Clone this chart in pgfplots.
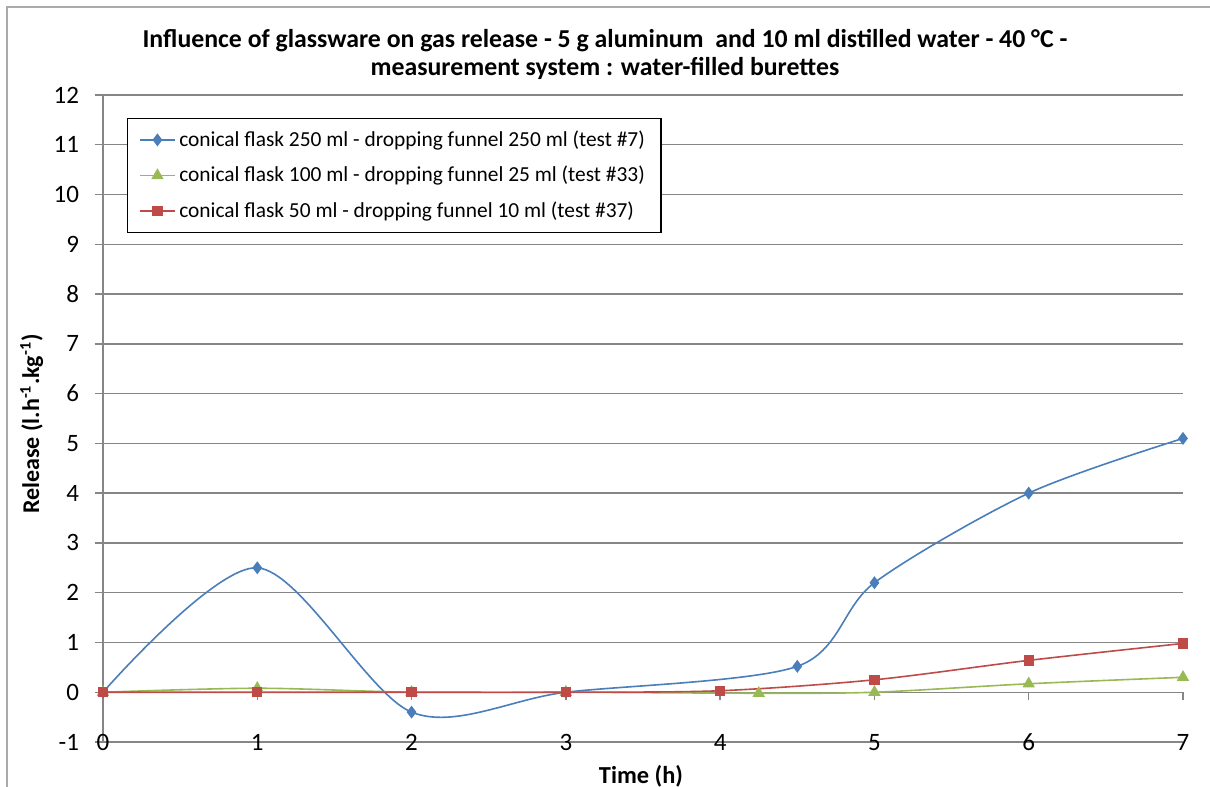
\documentclass[border=0pt]{standalone}
\usepackage{fontspec}
\setmainfont{Carlito}
\usepackage{pgfplots}
\pgfplotsset{compat=1.18}
\definecolor{sblue}{HTML}{4A7EBB}
\definecolor{sgreen}{HTML}{98B954}
\definecolor{sred}{HTML}{BE4B48}
\definecolor{gridgray}{HTML}{868686}
\begin{document}
\begin{tikzpicture}
\path[use as bounding box] (-51.5pt,-22.5pt) rectangle (553.5pt,371pt);
\draw[gridgray!70, line width=0.8pt] (-48pt,-22.5pt) -- (-48pt,367.5pt) -- (553.5pt,367.5pt);
\begin{axis}[
 scale only axis, width=540pt, height=323.5pt,
 xmin=0, xmax=7, ymin=-1, ymax=12,
 axis x line=middle, axis y line=left,
 axis line style={-, draw=gridgray, line width=0.7pt},
 hide obscured x ticks=false, hide obscured y ticks=false,
 xtick={0,...,7}, ytick={-1,0,...,12},
 ymajorgrids, grid style={gridgray, line width=0.7pt},
 tick style={gridgray, line width=0.7pt},
 tick align=outside, major tick length=4pt,
 ticklabel style={font=\fontsize{12.5}{14}\selectfont},
 /pgf/number format/assume math mode=true,
 xticklabel style={anchor=base, yshift=-25pt},
 yticklabel style={xshift=-4.5pt},
 clip=false,
 legend style={at={(0.0222,0.9645)}, anchor=north west, draw=black, line width=0.6pt,
   font=\fontsize{10.7}{12.5}\selectfont, row sep=4.5pt, inner xsep=6pt, inner ysep=4pt},
 legend cell align=left,
]
\addplot[sblue, line width=0.8pt, smooth, mark=diamond*, mark size=2.6pt, mark options={fill=sblue}]
 coordinates {(0,0) (1,2.5) (2,-0.4) (3,0) (4.5,0.52) (5,2.2) (6,4) (7,5.1)};
\addlegendentry{conical flask 250 ml - dropping funnel 250 ml (test \#7)}
\addplot[sgreen, line width=0.8pt, smooth, mark=triangle*, mark size=2.8pt, mark options={fill=sgreen}]
 coordinates {(0,0) (1,0.08) (2,0) (3,0) (4.25,-0.02) (5,0) (6,0.17) (7,0.3)};
\addlegendentry{conical flask 100 ml - dropping funnel 25 ml (test \#33)}
\addplot[sred, line width=0.8pt, smooth, mark=square*, mark size=2.2pt, mark options={fill=sred}]
 coordinates {(0,0) (1,0) (2,0) (3,0) (4,0.03) (5,0.25) (6,0.64) (7,0.98)};
\addlegendentry{conical flask 50 ml - dropping funnel 10 ml (test \#37)}
\node[font=\bfseries\fontsize{12.9}{14}\selectfont, align=center] at (axis description cs:0.4648,1.0634)
 {Influence of glassware on gas release - 5 g aluminum\ \ and 10 ml distilled water - 40 °C -\\ measurement system : water-filled burettes};
\node[font=\bfseries\fontsize{12}{14}\selectfont, rotate=90] at (axis description cs:-0.066,0.4915)
 {Release (l.h\textsuperscript{-1}.kg\textsuperscript{-1})};
\node[font=\bfseries\fontsize{12.2}{14}\selectfont] at (axis description cs:0.4981,-0.0525) {Time (h)};
\end{axis}
\end{tikzpicture}
\end{document}
